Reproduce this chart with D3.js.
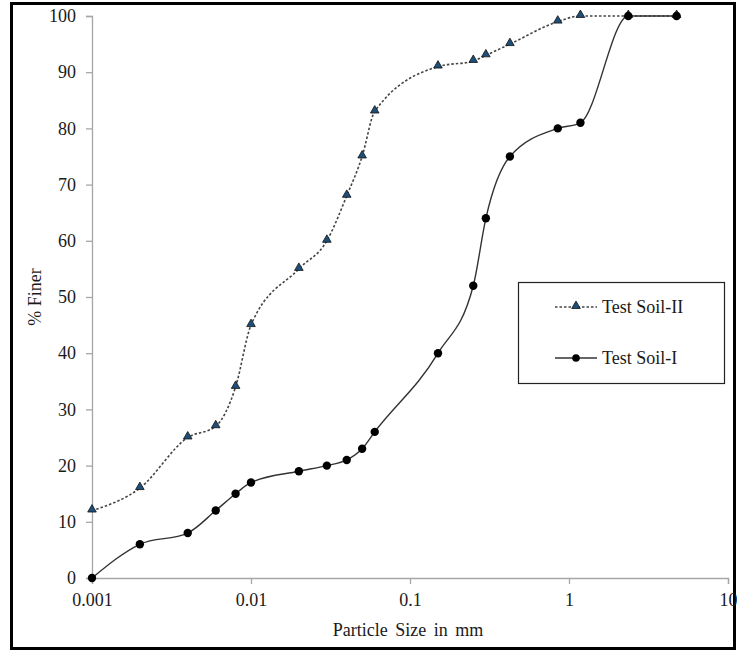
<!DOCTYPE html>
<html>
<head>
<meta charset="utf-8">
<script src="https://cdn.jsdelivr.net/npm/d3@7"></script>
<style>
  html, body { margin: 0; padding: 0; background: #fff; }
  svg { display: block; }
</style>
</head>
<body>
<svg id="chart" width="737" height="652"></svg>
<script>
// Sieve / hydrometer sizes (mm)
const sizes = [0.001, 0.002, 0.004, 0.006, 0.008, 0.01, 0.02, 0.03, 0.04, 0.05, 0.06,
               0.15, 0.25, 0.3, 0.425, 0.85, 1.18, 2.36, 4.75];
// Percent finer for each soil
const soil1 = [0, 6, 8, 12, 15, 17, 19, 20, 21, 23, 26, 40, 52, 64, 75, 80, 81, 100, 100];
const soil2 = [12, 16, 25, 27, 34, 45, 55, 60, 68, 75, 83, 91, 92, 93, 95, 99, 100, 100, 100];
const seriesNames = ["Test Soil-II", "Test Soil-I"];
const xTicks = [0.001, 0.01, 0.1, 1, 10];
const xTickLabels = ["0.001", "0.01", "0.1", "1", "10"];
const yTicks = [0, 10, 20, 30, 40, 50, 60, 70, 80, 90, 100];

const serif = "'Liberation Serif', 'Times New Roman', serif";
const svg = d3.select("#chart");
const plotLeft = 92, plotRight = 728, plotTop = 16, plotBottom = 578;

const x = d3.scaleLog().domain([0.001, 10]).range([plotLeft, plotRight]);
const y = d3.scaleLinear().domain([0, 100]).range([plotBottom, plotTop]);

// outer frame
svg.append("rect")
  .attr("x", 11.5).attr("y", 3.5).attr("width", 723).attr("height", 645)
  .attr("fill", "none").attr("stroke", "#000").attr("stroke-width", 3);

const axisColor = "#a6a6a6";

function styleAxis(g) {
  g.attr("font-family", serif).attr("font-size", 18);
  g.select(".domain").attr("stroke", axisColor).attr("stroke-width", 1.3);
  g.selectAll(".tick line").attr("stroke", axisColor).attr("stroke-width", 1.3);
  g.selectAll("text").style("font-family", serif).style("font-size", "18px").attr("fill", "#1a1a1a");
}

// y axis
svg.append("g").attr("transform", `translate(${plotLeft},0)`)
  .call(d3.axisLeft(y).tickValues(yTicks).tickSize(6).tickPadding(10).tickFormat(d3.format("d")))
  .call(styleAxis);

// x axis
svg.append("g").attr("transform", `translate(0,${plotBottom})`)
  .call(d3.axisBottom(x).tickValues(xTicks).tickSize(6).tickPadding(9)
    .tickFormat((d, i) => xTickLabels[i]))
  .call(styleAxis);

// axis titles
svg.append("text")
  .attr("x", 408).attr("y", 636)
  .attr("text-anchor", "middle").attr("fill", "#1a1a1a")
  .style("font-family", serif).style("font-size", "18px").style("word-spacing", "3px")
  .text("Particle Size in mm");
svg.append("text")
  .attr("transform", "translate(41,297) rotate(-90)")
  .attr("text-anchor", "middle").attr("fill", "#1a1a1a")
  .style("font-family", serif).style("font-size", "18px")
  .text("% Finer");

const line = d3.line()
  .x(d => x(d[0])).y(d => y(d[1]))
  .curve(d3.curveMonotoneX);

const pts1 = sizes.map((s, i) => [s, soil1[i]]);
const pts2 = sizes.map((s, i) => [s, soil2[i]]);

const triangle = d3.symbol().type(d3.symbolTriangle).size(32);

// Soil-II : dotted line with triangles
svg.append("path").datum(pts2).attr("d", line)
  .attr("fill", "none").attr("stroke", "#444").attr("stroke-width", 1.6)
  .attr("stroke-dasharray", "2.5,2");
svg.append("g").selectAll("path").data(pts2).join("path")
  .attr("d", triangle)
  .attr("transform", d => `translate(${x(d[0])},${y(d[1]) - 1})`)
  .attr("fill", "#1f4e79").attr("stroke", "#111").attr("stroke-width", 0.8);

// Soil-I : solid line with circles
svg.append("path").datum(pts1).attr("d", line)
  .attr("fill", "none").attr("stroke", "#333").attr("stroke-width", 1.4);
svg.append("g").selectAll("circle").data(pts1).join("circle")
  .attr("cx", d => x(d[0])).attr("cy", d => y(d[1])).attr("r", 4.2)
  .attr("fill", "#000");

// legend
const lg = svg.append("g");
lg.append("rect").attr("x", 518.5).attr("y", 282.5).attr("width", 206).attr("height", 101)
  .attr("fill", "#fff").attr("stroke", "#222").attr("stroke-width", 1.2);
const rows = [307, 358];
// Soil-II entry
lg.append("line").attr("x1", 555).attr("x2", 597).attr("y1", rows[0]).attr("y2", rows[0])
  .attr("stroke", "#444").attr("stroke-width", 1.6).attr("stroke-dasharray", "2.5,2");
lg.append("path").attr("d", triangle)
  .attr("transform", `translate(576,${rows[0] - 1})`)
  .attr("fill", "#1f4e79").attr("stroke", "#111").attr("stroke-width", 0.8);
// Soil-I entry
lg.append("line").attr("x1", 555).attr("x2", 597).attr("y1", rows[1]).attr("y2", rows[1])
  .attr("stroke", "#333").attr("stroke-width", 1.4);
lg.append("circle").attr("cx", 576).attr("cy", rows[1]).attr("r", 3.8).attr("fill", "#000");
lg.selectAll("text.name").data(seriesNames).join("text").attr("class", "name")
  .attr("x", 602).attr("y", (d, i) => rows[i]).attr("dy", "0.35em").attr("fill", "#1a1a1a")
  .style("font-family", serif).style("font-size", "18px")
  .text(d => d);
</script>
</body>
</html>
